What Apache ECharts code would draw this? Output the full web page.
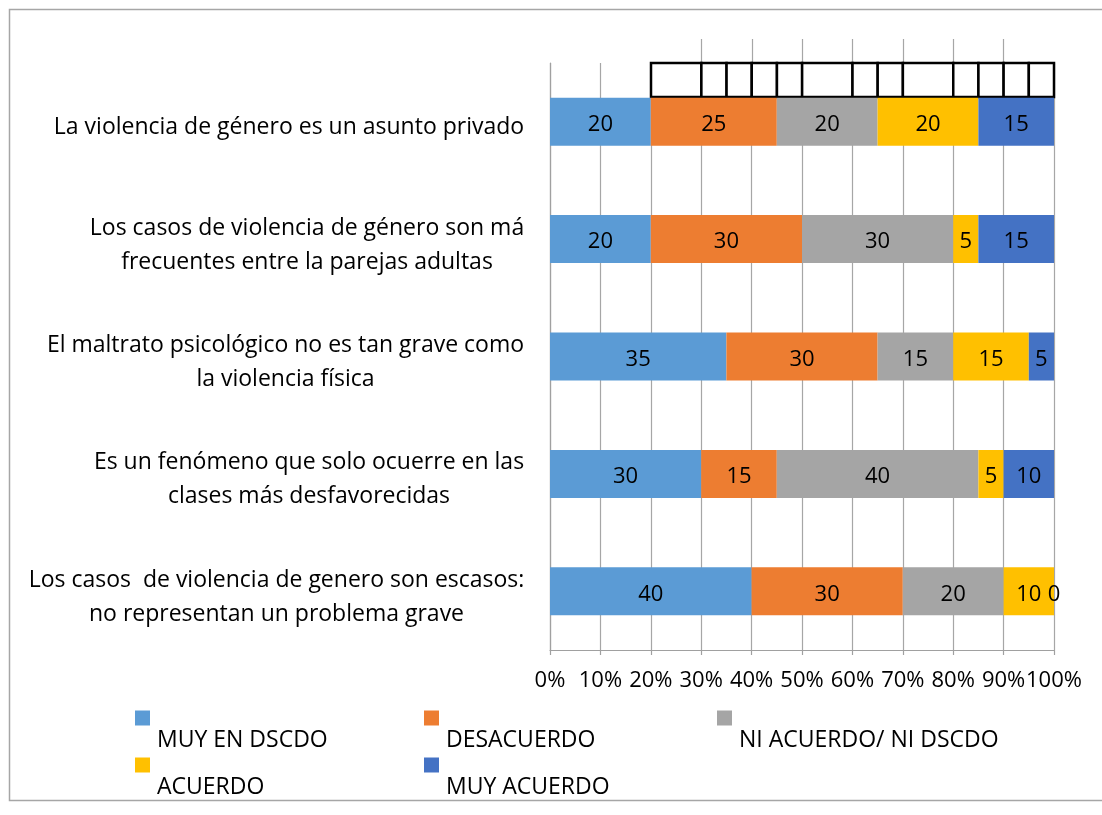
<!DOCTYPE html>
<html>
<head>
<meta charset="utf-8">
<script src="https://cdn.jsdelivr.net/npm/echarts@6/dist/echarts.min.js"></script>
<style>
html,body{margin:0;padding:0;background:#fff;}
#main{width:1102px;height:815px;}
</style>
</head>
<body>
<div id="main"></div>
<script>
// ---- data (top to bottom) ----
const categories = [
  "La violencia de género es un asunto privado",
  "Los casos de violencia de género son má\nfrecuentes entre la parejas adultas",
  "El maltrato psicológico no es tan grave como\nla violencia física",
  "Es un fenómeno que solo ocuerre en las\nclases más desfavorecidas",
  "Los casos  de violencia de genero son escasos:\nno representan un problema grave"
];
const seriesNames = ["MUY EN DSCDO", "DESACUERDO", "NI ACUERDO/ NI DSCDO", "ACUERDO", "MUY ACUERDO"];
const muyEnDscdo = [20, 20, 35, 30, 40];
const desacuerdo = [25, 30, 30, 15, 30];
const niAcuerdoNiDscdo = [20, 30, 15, 40, 20];
const acuerdo = [20, 5, 15, 5, 10];
const muyAcuerdo = [15, 15, 5, 10, 0];
const xTicks = [0, 10, 20, 30, 40, 50, 60, 70, 80, 90, 100];
// outlined empty boxes drawn above the first bar (percent edges)
const boxEdges = [20, 30, 35, 40, 45, 50, 60, 65, 70, 80, 85, 90, 95, 100];

const FONT = 'Open Sans';
const FS = 22;      // bar labels, axis labels
const FS_CAT = 23;  // category and legend text
const colors = ['#5B9BD5', '#ED7D31', '#A5A5A5', '#FFC000', '#4472C4'];
const values = [muyEnDscdo, desacuerdo, niAcuerdoNiDscdo, acuerdo, muyAcuerdo];

// measure label widths so each multi-line label is centered line-by-line
const cv = document.createElement('canvas').getContext('2d');
cv.font = FS_CAT + 'px "' + FONT + '"';
const rich = {};
categories.forEach((c, i) => {
  const w = Math.max(...c.split('\n').map(l => cv.measureText(l).width));
  rich['c' + i] = { width: Math.ceil(w) + 1, align: 'center', fontSize: FS_CAT, fontFamily: FONT, lineHeight: 34, color: '#000' };
});

const boxData = [];
for (let i = 0; i < boxEdges.length - 1; i++) boxData.push([boxEdges[i], boxEdges[i + 1]]);

const chart = echarts.init(document.getElementById('main'));

const barSeries = seriesNames.map((n, k) => ({
  name: n,
  type: 'bar',
  stack: 'total',
  xAxisIndex: 0, yAxisIndex: 0,
  barWidth: 48,
  itemStyle: { color: colors[k] },
  label: {
    show: true, position: 'inside', color: '#000',
    fontFamily: FONT, fontSize: FS, offset: [0, 3]
  },
  emphasis: { disabled: true },
  data: values[k]
}));

const legendPos = [
  [135, 674], [424, 674], [717, 674],
  [135, 721], [424, 721]
];

const option = {
  animation: false,
  backgroundColor: '#fff',
  color: colors,
  graphic: [{
    type: 'rect', silent: true, z: -10,
    shape: { x: 9.5, y: 9.5, width: 1100, height: 791 },
    style: { fill: 'none', stroke: '#a6a6a6', lineWidth: 1.5 }
  }],
  legend: seriesNames.map((n, k) => ({
    data: [n],
    left: legendPos[k][0], top: legendPos[k][1],
    padding: 0,
    icon: 'rect', itemWidth: 15, itemHeight: 15,
    selectedMode: false,
    formatter: name => '\n' + name,
    textStyle: { fontFamily: FONT, fontSize: FS_CAT, color: '#000', lineHeight: 44, padding: [0, 0, 0, 2] }
  })),
  grid: [
    { left: 550, width: 504, top: 63, height: 587, containLabel: false },
    { left: 651, width: 403, top: 39, height: 58, containLabel: false }
  ],
  xAxis: [{
    gridIndex: 0, type: 'value', min: 0, max: 100, interval: 10,
    axisLine: { show: true, lineStyle: { color: '#a0a0a0', width: 1.2 } },
    axisTick: { show: true, length: 5, lineStyle: { color: '#a0a0a0', width: 1.2 } },
    splitLine: { show: true, lineStyle: { color: '#a6a6a6', width: 1.2 } },
    axisLabel: { formatter: v => xTicks.includes(v) ? v + '%' : '', fontFamily: FONT, fontSize: FS, color: '#000', margin: 20 }
  }, {
    gridIndex: 1, type: 'value', min: 20, max: 100, interval: 10,
    axisLine: { show: false }, axisTick: { show: false }, axisLabel: { show: false },
    splitLine: { show: true, showMinLine: false, showMaxLine: false, lineStyle: { color: '#a6a6a6', width: 1.2 } }
  }],
  yAxis: [{
    gridIndex: 0, type: 'category', inverse: true, data: categories,
    axisLine: { show: true, lineStyle: { color: '#a0a0a0', width: 1.2 } },
    axisTick: { show: false },
    splitLine: { show: false },
    axisLabel: {
      margin: 25, align: 'right', padding: [12, 0, 0, 0],
      formatter: (v, i) => v.split('\n').map(l => '{c' + i + '|' + l + '}').join('\n'),
      rich: rich
    }
  }, {
    gridIndex: 1, type: 'value', inverse: true, min: 0, max: 58,
    show: false
  }],
  series: barSeries.concat([{
    type: 'custom',
    xAxisIndex: 1, yAxisIndex: 1,
    silent: true,
    encode: { x: [0, 1] },
    renderItem: (params, api) => {
      const p1 = api.coord([api.value(0), 24]);
      const p2 = api.coord([api.value(1), 58]);
      return {
        type: 'rect',
        shape: { x: p1[0], y: p1[1], width: p2[0] - p1[0], height: p2[1] - p1[1] },
        style: { fill: '#fff', stroke: '#000', lineWidth: 2.5 }
      };
    },
    data: boxData
  }])
};
chart.setOption(option);
</script>
</body>
</html>
